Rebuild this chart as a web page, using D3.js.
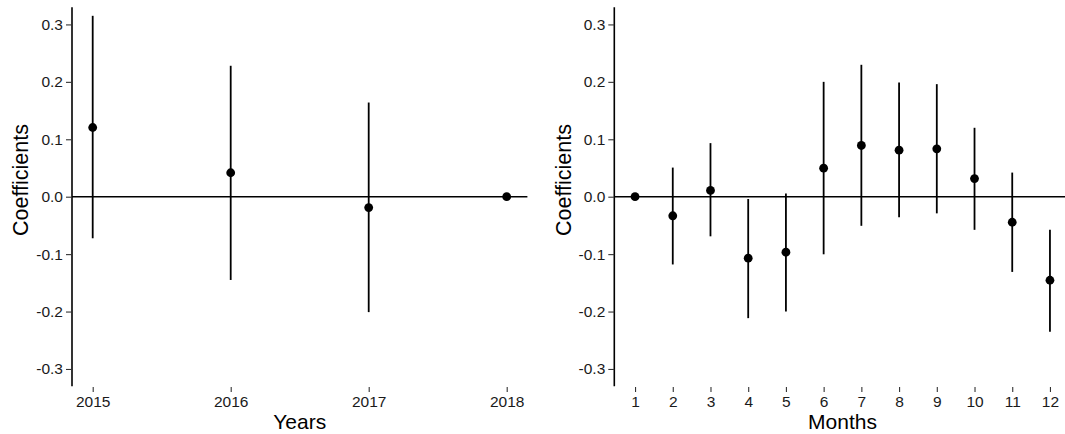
<!DOCTYPE html>
<html>
<head>
<meta charset="utf-8">
<script src="https://cdn.jsdelivr.net/npm/d3@7"></script>
<style>
  html, body { margin: 0; padding: 0; background: #fff; }
  svg { display: block; font-family: "Liberation Sans", Arial, Helvetica, sans-serif; }
</style>
</head>
<body>
<svg id="chart" width="1065" height="434"></svg>
<script>
// ---- Data ----
const years = [2015, 2016, 2017, 2018];
const yearCoef = [0.1205, 0.0417, -0.019, 0];
const yearLow = [-0.0724, -0.145, -0.201, 0];
const yearHigh = [0.315, 0.228, 0.164, 0];

const months = [1, 2, 3, 4, 5, 6, 7, 8, 9, 10, 11, 12];
const monthCoef = [0, -0.0332, 0.011, -0.107, -0.0967, 0.0496, 0.0892, 0.081, 0.0834, 0.0315, -0.0445, -0.1455];
const monthLow = [0, -0.118, -0.069, -0.2115, -0.200, -0.1003, -0.0507, -0.036, -0.029, -0.0577, -0.131, -0.235];
const monthHigh = [0, 0.0507, 0.0933, -0.004, 0.0055, 0.200, 0.2297, 0.199, 0.196, 0.120, 0.042, -0.0575];

const yTicks = [-0.3, -0.2, -0.1, 0.0, 0.1, 0.2, 0.3];
const yTickLabels = ["-0.3", "-0.2", "-0.1", "0.0", "0.1", "0.2", "0.3"];
const yearTickLabels = ["2015", "2016", "2017", "2018"];
const monthTickLabels = ["1","2","3","4","5","6","7","8","9","10","11","12"];

const svg = d3.select("#chart");

const y = d3.scaleLinear().domain([-0.33, 0.33]).range([386.2, 7.2]);

function panel(opts) {
  const { xs, coef, low, high, tickLabels, x0, x1, title, ytitleX } = opts;
  const n = xs.length;
  const span = xs[n - 1] - xs[0];
  const x = d3.scaleLinear()
    .domain([xs[0] - 0.05 * span, xs[n - 1] + 0.05 * span])
    .range([x0, x1]);
  const g = svg.append("g");

  // y axis
  const yAxis = d3.axisLeft(y).tickValues(yTicks).tickSize(6).tickPadding(3)
    .tickFormat((d, i) => yTickLabels[i]);
  const ya = g.append("g").attr("transform", `translate(${x0},0)`).call(yAxis);
  ya.select(".domain").attr("d", `M0,${y.range()[0]}V${y.range()[1]}`)
    .attr("stroke", "#000").attr("stroke-width", 1.6);
  ya.selectAll(".tick line").attr("stroke", "#333").attr("stroke-width", 1.1);
  ya.selectAll(".tick text").attr("font-size", 15.5).attr("fill", "#1a1a1a")
    .attr("font-family", "Liberation Sans, Arial, sans-serif");

  // x axis (ticks only)
  const xAxis = d3.axisBottom(x).tickValues(xs).tickSize(5).tickPadding(4)
    .tickFormat((d, i) => tickLabels[i]);
  const xa = g.append("g").attr("transform", `translate(0,387)`).call(xAxis);
  xa.select(".domain").remove();
  xa.selectAll(".tick line").attr("stroke", "#333").attr("stroke-width", 1.1);
  xa.selectAll(".tick text").attr("font-size", 15.5).attr("fill", "#1a1a1a")
    .attr("font-family", "Liberation Sans, Arial, sans-serif");

  // zero line
  g.append("line")
    .attr("x1", x.range()[0]).attr("x2", x.range()[1])
    .attr("y1", y(0)).attr("y2", y(0))
    .attr("stroke", "#000").attr("stroke-width", 1.6);

  // error bars
  g.selectAll("line.err").data(xs).enter().append("line")
    .attr("class", "err")
    .attr("x1", d => x(d)).attr("x2", d => x(d))
    .attr("y1", (d, i) => y(low[i])).attr("y2", (d, i) => y(high[i]))
    .attr("stroke", "#000").attr("stroke-width", 1.8);

  // points
  g.selectAll("circle").data(xs).enter().append("circle")
    .attr("cx", d => x(d)).attr("cy", (d, i) => y(coef[i]))
    .attr("r", 4.4).attr("fill", "#000");

  // titles
  g.append("text")
    .attr("x", (x0 + x1) / 2).attr("y", 429)
    .attr("text-anchor", "middle").attr("font-size", 21).attr("fill", "#000")
    .text(title);
  g.append("text")
    .attr("transform", `translate(${ytitleX},180) rotate(-90)`)
    .attr("text-anchor", "middle").attr("font-size", 21.5).attr("fill", "#000")
    .text("Coefficients");
}

panel({ xs: years, coef: yearCoef, low: yearLow, high: yearHigh,
  tickLabels: yearTickLabels, x0: 72, x1: 527.4, title: "Years", ytitleX: 28 });
panel({ xs: months, coef: monthCoef, low: monthLow, high: monthHigh,
  tickLabels: monthTickLabels, x0: 614.3, x1: 1070.7, title: "Months", ytitleX: 571 });
</script>
</body>
</html>
